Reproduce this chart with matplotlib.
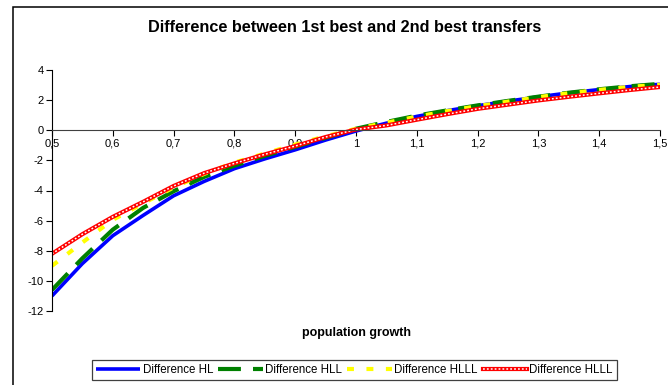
import numpy as np
import matplotlib.pyplot as plt
from matplotlib.patches import Rectangle
from matplotlib.legend_handler import HandlerTuple

plt.rcParams['font.family'] = ['Liberation Sans', 'DejaVu Sans']
plt.rcParams['lines.scale_dashes'] = False

# population growth (x) and differences between 1st best and 2nd best transfers
growth = [0.5, 0.55, 0.6, 0.65, 0.7, 0.75, 0.8, 0.85, 0.9, 0.95, 1.0,
          1.05, 1.1, 1.15, 1.2, 1.25, 1.3, 1.35, 1.4, 1.45, 1.5]
diff_hl = [-11.0, -8.85, -7.0, -5.65, -4.35, -3.4, -2.55, -1.9, -1.3, -0.65, -0.05,
           0.47, 0.92, 1.3, 1.63, 1.93, 2.22, 2.48, 2.7, 2.9, 3.05]
diff_hll = [-10.6, -8.5, -6.6, -5.15, -4.05, -3.1, -2.35, -1.7, -1.1, -0.5, 0.1,
            0.55, 0.97, 1.32, 1.65, 1.95, 2.23, 2.49, 2.72, 2.92, 3.08]
diff_hlll = [-9.0, -7.45, -5.95, -4.85, -3.8, -2.9, -2.15, -1.55, -0.95, -0.4, 0.1,
             0.5, 0.9, 1.27, 1.6, 1.9, 2.2, 2.46, 2.68, 2.88, 3.02]
diff_hlll_2 = [-8.2, -6.9, -5.75, -4.75, -3.7, -2.85, -2.2, -1.6, -1.05, -0.45, 0.05,
               0.32, 0.7, 1.07, 1.42, 1.7, 1.98, 2.22, 2.45, 2.67, 2.87]

x_ticks = [0.5, 0.6, 0.7, 0.8, 0.9, 1.0, 1.1, 1.2, 1.3, 1.4, 1.5]
x_tick_labels = ["0,5", "0,6", "0,7", "0,8", "0,9", "1", "1,1", "1,2", "1,3", "1,4", "1,5"]
y_ticks = [-12, -10, -8, -6, -4, -2, 0, 2, 4]
y_tick_labels = ["-12", "-10", "-8", "-6", "-4", "-2", "0", "2", "4"]

W, H = 668, 385
fig = plt.figure(figsize=(W / 100, H / 100), dpi=100)
ax = fig.add_axes([52 / W, 1 - 311 / H, (660 - 52) / W, (311 - 70) / H])

l_hl, = ax.plot(growth, diff_hl, color='#0000FF', lw=2.6, solid_capstyle='butt')
l_hll, = ax.plot(growth, diff_hll, color='#008000', lw=3, dashes=(16.5, 8.7), dash_capstyle='butt')
l_hlll, = ax.plot(growth, diff_hlll, color='#FFFF00', lw=3, dashes=(5, 9), dash_capstyle='butt')
l_red, = ax.plot(growth, diff_hlll_2, color='#FF0000', lw=3)
l_red_in, = ax.plot(growth, diff_hlll_2, color='white', lw=1.1, dashes=(1.3, 1.5), dash_capstyle='butt')

ax.set_xlim(0.5, 1.5)
ax.set_ylim(-12, 4)
ax.spines['top'].set_visible(False)
ax.spines['right'].set_visible(False)
ax.spines['bottom'].set_position(('data', 0))
ax.spines['bottom'].set_color('#404040')
ax.spines['left'].set_color('black')
ax.set_xticks(x_ticks)
ax.set_xticklabels(x_tick_labels)
ax.set_yticks(y_ticks)
ax.set_yticklabels(y_tick_labels)
ax.tick_params(axis='both', labelsize=8, length=4, width=0.8, direction='out', pad=2)

fig.text(345 / W, 1 - 28 / H, "Difference between 1st best and 2nd best transfers",
         ha='center', va='center', fontsize=11.7, fontweight='bold')
fig.text(357 / W, 1 - 333 / H, "population growth", ha='center', va='center',
         fontsize=9, fontweight='bold')

leg = fig.legend([l_hl, l_hll, l_hlll, (l_red, l_red_in)],
                 ["Difference HL", "Difference HLL", "Difference HLLL", "Difference HLLL"],
                 handler_map={tuple: HandlerTuple(ndivide=1)},
                 loc='center', bbox_to_anchor=((91 + 618) / 2 / W, 1 - 370 / H),
                 ncol=4, fontsize=8.3, handlelength=3.85, handletextpad=0.2,
                 columnspacing=0.45, borderpad=0.38, borderaxespad=0,
                 fancybox=False, framealpha=1, edgecolor='#404040')
leg.get_frame().set_linewidth(0.9)

# chart area border
fig.add_artist(Rectangle((13 / W, -0.1), 1.2, 1 - 7 / H + 0.1, transform=fig.transFigure,
                         fill=False, ec='black', lw=1.1))

plt.savefig("out.png", dpi=100)
plt.close()
